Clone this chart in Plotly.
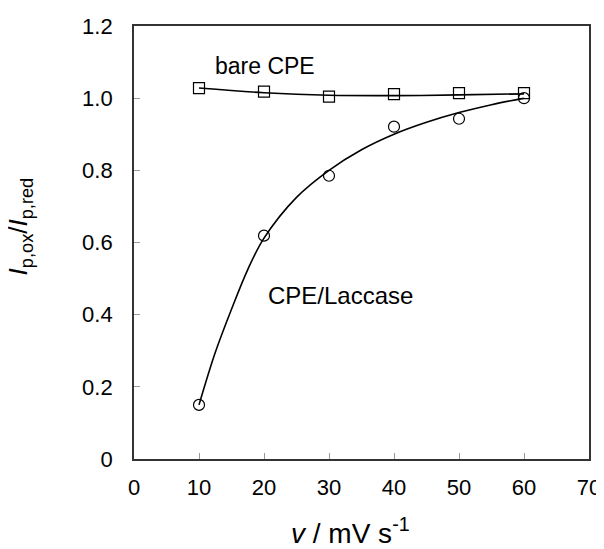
import plotly.graph_objects as go

# Scan rate (mV/s)
scan_rate = [10, 20, 30, 40, 50, 60]
# Measured ratios
bare_cpe = [1.028, 1.018, 1.004, 1.011, 1.014, 1.014]
cpe_laccase = [0.150, 0.619, 0.785, 0.921, 0.943, 1.000]

# Fitted trend lines
fit_x_bare = [10, 20, 30, 40, 50, 60]
fit_y_bare = [1.028, 1.015, 1.008, 1.007, 1.009, 1.012]
fit_x_lac = [10, 12.5, 15, 17.5, 20, 25, 30, 35, 40, 45, 50, 55, 60]
fit_y_lac = [0.150, 0.295, 0.415, 0.525, 0.612, 0.725, 0.800, 0.857, 0.900, 0.933, 0.960, 0.982, 1.000]

y_ticks = [0, 0.2, 0.4, 0.6, 0.8, 1.0, 1.2]
y_tick_text = ["0", "0.2", "0.4", "0.6", "0.8", "1.0", "1.2"]
x_ticks = [0, 10, 20, 30, 40, 50, 60, 70]

font_family = "Liberation Sans, Arial, Helvetica, sans-serif"

fig = go.Figure()
fig.add_trace(go.Scatter(x=fit_x_bare, y=fit_y_bare, mode="lines",
                         line=dict(color="black", width=1.6, shape="spline"),
                         showlegend=False, hoverinfo="skip"))
fig.add_trace(go.Scatter(x=fit_x_lac, y=fit_y_lac, mode="lines",
                         line=dict(color="black", width=1.6, shape="spline"),
                         showlegend=False, hoverinfo="skip"))
fig.add_trace(go.Scatter(x=scan_rate, y=bare_cpe, mode="markers", name="bare CPE",
                         marker=dict(symbol="square-open", size=11, color="black",
                                     line=dict(width=1.2)),
                         showlegend=False))
fig.add_trace(go.Scatter(x=scan_rate, y=cpe_laccase, mode="markers", name="CPE/Laccase",
                         marker=dict(symbol="circle-open", size=11, color="black",
                                     line=dict(width=1.2)),
                         showlegend=False))

fig.add_annotation(x=20.2, y=1.09, text="bare CPE", showarrow=False,
                   font=dict(size=23, color="black", family=font_family))
fig.add_annotation(x=31.8, y=0.452, text="CPE/Laccase", showarrow=False,
                   font=dict(size=24, color="black", family=font_family))

# axis titles as annotations for precise placement
fig.add_annotation(xref="paper", yref="paper", x=0.475, y=-0.167,
                   xanchor="center", yanchor="middle", showarrow=False,
                   text="<i>v</i> / mV s<sup>-1</sup>",
                   font=dict(size=28, color="black", family=font_family))
fig.add_annotation(xref="paper", yref="paper", x=-0.252, y=0.538,
                   xanchor="center", yanchor="middle", showarrow=False, textangle=-90,
                   text="<i>I</i><sub>p,ox</sub>/<i>I</i><sub>p,red</sub>",
                   font=dict(size=26, color="black", family=font_family))

fig.update_layout(
    width=596, height=541,
    margin=dict(l=126, r=15, t=18, b=90),
    paper_bgcolor="white", plot_bgcolor="white",
    font=dict(family=font_family, color="black", size=22),
    xaxis=dict(range=[0, 70], tickvals=x_ticks, ticks="inside", ticklen=6,
               tickcolor="#999999", showgrid=False, zeroline=False, automargin=False,
               showline=True, linecolor="#333333", linewidth=1.8, mirror=True,
               ticklabelstandoff=8,
               tickfont=dict(size=22, family=font_family, color="black")),
    yaxis=dict(range=[0, 1.2], tickvals=y_ticks, ticktext=y_tick_text, ticks="inside",
               ticklen=6, tickcolor="#999999", showgrid=False, zeroline=False, automargin=False,
               showline=True, linecolor="#333333", linewidth=1.8, mirror=True,
               ticklabelstandoff=15,
               tickfont=dict(size=22, family=font_family, color="black")),
)

fig.write_html("out.html")
